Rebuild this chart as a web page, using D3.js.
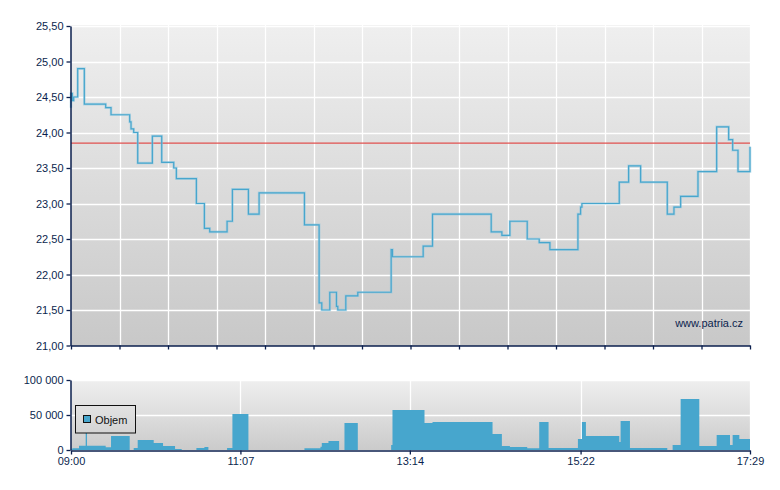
<!DOCTYPE html>
<html><head><meta charset="utf-8">
<script src="https://cdn.jsdelivr.net/npm/d3@7"></script>
<style>
html,body{margin:0;padding:0;background:#fff;}
svg{display:block;font-family:"Liberation Sans",Arial,sans-serif;}
</style></head>
<body><svg id="c" width="780" height="490"></svg>
<script>
// ---- data ----
const priceTimes = ["09:00","09:00","09:01","09:02","09:05","09:10","09:26","09:30","09:44","09:45","09:47","09:50","10:01","10:08","10:17","10:19","10:34","10:40","10:44","10:57","11:01","11:13","11:21","11:55","12:06","12:08","12:14","12:19","12:20","12:26","12:35","13:00","13:01","13:24","13:31","14:15","14:23","14:29","14:42","14:51","14:59","15:20","15:22","15:23","15:51","15:58","16:07","16:27","16:32","16:37","16:50","17:04","17:13","17:16","17:20","17:29"];
const priceValues = [24.35,24.55,24.45,24.50,24.90,24.40,24.35,24.25,24.15,24.05,24.00,23.57,23.95,23.58,23.50,23.35,23.00,22.65,22.60,22.75,23.20,22.85,23.15,22.70,21.60,21.50,21.75,21.55,21.50,21.70,21.75,22.35,22.25,22.40,22.85,22.60,22.55,22.75,22.50,22.45,22.35,22.85,22.95,23.00,23.30,23.53,23.30,22.85,22.95,23.10,23.45,24.08,23.90,23.75,23.45,23.80];
const previousClose = 23.85;
const volumeTimes = ["09:00","09:01","09:06","09:11","09:12","09:26","09:30","09:44","09:47","09:50","10:02","10:09","10:18","10:23","10:34","10:40","10:43","10:57","11:01","11:13","11:55","12:07","12:08","12:13","12:21","12:25","12:35","13:00","13:01","13:25","13:31","14:16","14:23","14:29","14:42","14:51","14:58","15:20","15:23","15:26","15:51","15:52","15:59","16:27","16:31","16:37","16:51","17:04","17:14","17:16","17:21","17:29"];
const volumeValues = [1000,2400,6100,28000,6000,3800,20000,0,2900,14300,10000,5700,1400,0,2900,4300,0,2900,51400,0,2500,4700,10000,13000,0,38600,0,7000,57000,38600,40000,22900,5700,4300,2400,40000,2900,15700,40000,20000,11400,41400,2900,0,7100,72900,5700,21400,7100,21400,15700,15700];
const priceTicks = [21.0,21.5,22.0,22.5,23.0,23.5,24.0,24.5,25.0,25.5];
const volumeTicks = [0,50000,100000];
const timeLabels = ["09:00","11:07","13:14","15:22","17:29"];
const seriesName = "Objem";
const watermark = "www.patria.cz";

// ---- setup ----
const navy = "#0b1f4e", blue = "#47a6cd";
const parse = d3.timeParse("%H:%M");
const svg = d3.select("#c");
const L = 71, R = 750;
const x = d3.scaleTime().domain([parse("09:00"), parse("17:29")]).range([L, R]);
const y = d3.scaleLinear().domain([21, 25.5]).range([345.5, 26]);
const yv = d3.scaleLinear().domain([0, 100000]).range([450, 380]);

const defs = svg.append("defs");
function grad(id, y1, y2, c1, c2){
  const g = defs.append("linearGradient").attr("id", id).attr("gradientUnits","userSpaceOnUse")
    .attr("x1",0).attr("x2",0).attr("y1",y1).attr("y2",y2);
  g.append("stop").attr("offset",0).attr("stop-color",c1);
  g.append("stop").attr("offset",1).attr("stop-color",c2);
}
grad("gMain", 25, 346, "#efefef", "#c8c8c8");
grad("gVol", 380, 450, "#efefef", "#cbcbcb");

// backgrounds
svg.append("rect").attr("x",L).attr("y",25).attr("width",R-L).attr("height",321).attr("fill","url(#gMain)");
svg.append("rect").attr("x",L).attr("y",380).attr("width",R-L).attr("height",70).attr("fill","url(#gVol)");

// main grid
const t0 = parse("09:00").getTime(), t1 = parse("17:29").getTime();
const gridTimes = d3.range(15).map(i => new Date(t0 + i*(t1-t0)/14));
const g = svg.append("g");
g.selectAll(".vg").data(gridTimes.slice(1)).join("line")
  .attr("x1", d => Math.round(x(d))+0.5).attr("x2", d => Math.round(x(d))+0.5)
  .attr("y1",25).attr("y2",345).attr("stroke","#fff").attr("stroke-width",1.3);
g.selectAll(".hg").data(priceTicks.slice(1)).join("line")
  .attr("x1",L).attr("x2",R).attr("y1", d => Math.round(y(d))+0.5).attr("y2", d => Math.round(y(d))+0.5)
  .attr("stroke","#fff").attr("stroke-width",1.3);

// volume grid
const labelDates = timeLabels.map(parse);
svg.selectAll(".vvg").data(labelDates.slice(1)).join("line")
  .attr("x1", d => Math.round(x(d))+0.5).attr("x2", d => Math.round(x(d))+0.5)
  .attr("y1",380).attr("y2",450).attr("stroke","#fff").attr("stroke-width",1.3);
svg.selectAll(".vhg").data(volumeTicks.slice(1)).join("line")
  .attr("x1",L).attr("x2",R).attr("y1", d => Math.round(yv(d))+0.5).attr("y2", d => Math.round(yv(d))+0.5)
  .attr("stroke","#fff").attr("stroke-width",1.3);

// previous close
svg.append("line").attr("x1",L).attr("x2",R).attr("y1",y(previousClose)).attr("y2",y(previousClose))
  .attr("stroke","#e0504f").attr("stroke-width",1.2);

// price line
const pts = priceTimes.map((t,i)=>[parse(t), priceValues[i]]);
const line = d3.line().x(d=>x(d[0])).y(d=>y(d[1])).curve(d3.curveStepAfter);
svg.append("path").attr("d", line(pts)).attr("fill","none").attr("stroke","#8cc6e0").attr("stroke-width",2.6).attr("stroke-opacity",0.55);
svg.append("path").attr("d", line(pts)).attr("fill","none").attr("stroke",blue).attr("stroke-width",1.2);

// volume area
const vpts = volumeTimes.map((t,i)=>[parse(t), volumeValues[i]]);
const area = d3.area().x(d=>x(d[0])).y0(yv(0)).y1(d=>yv(d[1])).curve(d3.curveStepAfter);
svg.append("path").attr("d", area(vpts)).attr("fill",blue);

// axes
function styleAxis(sel){
  sel.selectAll("path.domain").attr("stroke",navy).attr("stroke-width",1.5);
  sel.selectAll(".tick line").attr("stroke",navy).attr("stroke-width",1.3);
  sel.selectAll("text").attr("fill",navy).attr("font-size","11px").attr("font-family","'Liberation Sans',Arial,sans-serif");
}
const fmtP = d => d3.format(".2f")(d).replace(".", ",");
const fmtV = d => d3.format(",")(d).replace(/,/g, " ");

svg.append("g").attr("transform","translate(70.5,0)")
  .call(d3.axisLeft(y).tickValues(priceTicks).tickFormat(fmtP).tickSize(4).tickSizeOuter(0).tickPadding(3))
  .call(styleAxis);
svg.append("g").attr("transform","translate(0,345.5)")
  .call(d3.axisBottom(x).tickValues(gridTimes).tickFormat("").tickSize(4).tickSizeOuter(0))
  .call(styleAxis);

svg.append("g").attr("transform","translate(70.5,0)")
  .call(d3.axisLeft(yv).tickValues(volumeTicks).tickFormat(fmtV).tickSize(4).tickSizeOuter(0).tickPadding(3))
  .call(styleAxis);
svg.append("g").attr("transform","translate(0,450.5)")
  .call(d3.axisBottom(x).tickValues(labelDates).tickFormat(d3.timeFormat("%H:%M")).tickSize(4).tickSizeOuter(0).tickPadding(3))
  .call(styleAxis);

// legend
const lg = svg.append("g");
lg.append("rect").attr("x",75.5).attr("y",405.5).attr("width",60).attr("height",27.5)
  .attr("fill","url(#gVol)").attr("stroke","#111").attr("stroke-width",1);
lg.append("rect").attr("x",83.5).attr("y",415.5).attr("width",7).attr("height",7)
  .attr("fill",blue).attr("stroke","#111").attr("stroke-width",1);
lg.append("text").attr("x",95).attr("y",424).attr("fill","#111").attr("font-size","11px").text(seriesName);

// watermark
svg.append("text").attr("x",743).attr("y",327).attr("text-anchor","end").attr("fill",navy)
  .attr("font-size","11px").text(watermark);
</script></body></html>
